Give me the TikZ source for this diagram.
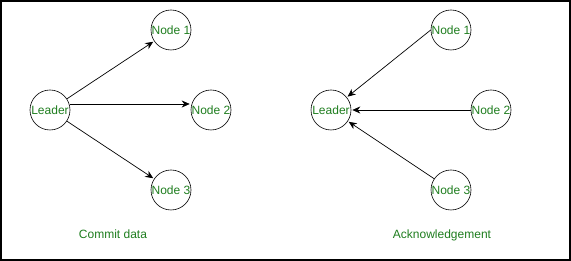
\documentclass[tikz,border=0pt]{standalone}
\usepackage{fontspec}
\setmainfont{Liberation Sans}
\usepackage{xcolor}
\usepackage{tikz}
\usetikzlibrary{arrows.meta, positioning}
\definecolor{labelGreen}{RGB}{30,125,30}
\tikzstyle{arrow} = [-{Stealth[length=8pt, width=7pt]}, line width=0.7pt]

\begin{document}
\begin{tikzpicture}[
  x=1pt, y=-1pt,
  peer/.style={draw, circle, line width=0.6pt, minimum size=40pt, inner sep=0pt, text=labelGreen, font=\fontsize{12}{14}\selectfont},
  caption/.style={text=labelGreen, anchor=base, font=\fontsize{12}{14}\selectfont},
  msg/.style={arrow, shorten >=1pt}
]
  \useasboundingbox (0,0) rectangle (571,261);
  \draw[line width=1.6pt] (0.8,0.8) rectangle (570.2,260.2);

  % Commit data
  \node[peer] (leadA) at (50,110) {Leader};
  \node[peer] (nodeA1) at (171,30) {Node 1};
  \node[peer] (nodeA2) at (211,110) {Node 2};
  \node[peer] (nodeA3) at (171,190) {Node 3};
  \node[caption] (commit) at (113,239) {Commit data};

  % Acknowledgement
  \node[peer] (leadB) at (331,110) {Leader};
  \node[peer] (nodeB1) at (451,30) {Node 1};
  \node[peer] (nodeB2) at (491,110) {Node 2};
  \node[peer] (nodeB3) at (451,190) {Node 3};
  \node[caption] (ack) at (442,239) {Acknowledgement};

  % Messages
  \draw[msg] (leadA) -- (nodeA1);
  \draw[msg] ([yshift=6pt]leadA.east) -- ([yshift=6pt]nodeA2.west);
  \draw[msg] (leadA) -- (nodeA3);

  \draw[msg] (nodeB1.west) -- (leadB);
  \draw[msg] (nodeB2.west) -- (leadB.east);
  \draw[msg] (nodeB3) -- (leadB);

\end{tikzpicture}
\end{document}
